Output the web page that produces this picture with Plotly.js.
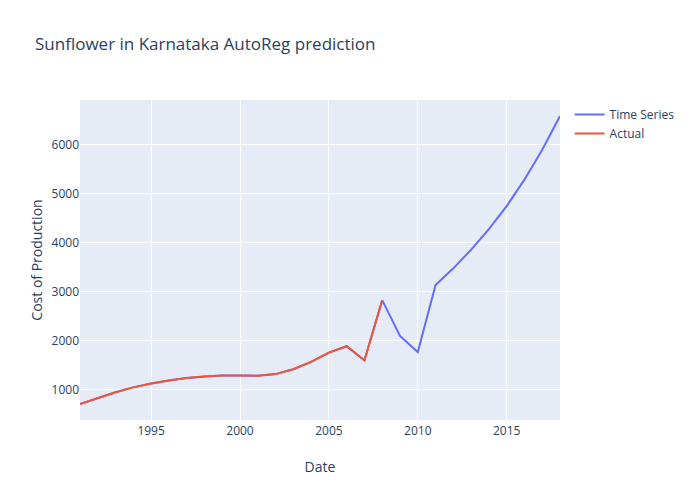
<!DOCTYPE html>
<html><head><script src="https://cdn.plot.ly/plotly-3.0.1.min.js"></script></head>
<body style="margin:0"><div id="c" style="width:700px;height:500px"></div>
<script>
const years = [1991,1992,1993,1994,1995,1996,1997,1998,1999,2000,2001,2002,2003,2004,2005,2006,2007,2008,2009,2010,2011,2012,2013,2014,2015,2016,2017,2018];
const series = [700,820,940,1040,1120,1180,1230,1260,1280,1280,1275,1310,1410,1560,1750,1880,1590,2820,2090,1760,3130,3470,3850,4270,4740,5280,5890,6580];
const actualYears = years.slice(0,18);
const actual = series.slice(0,18);
Plotly.newPlot('c',[
 {x:years,y:series,mode:'lines',name:'Time Series',line:{color:'#636efa'}},
 {x:actualYears,y:actual,mode:'lines',name:'Actual',line:{color:'#EF553B'}}
],{
 width:700,height:500,
 paper_bgcolor:'white',plot_bgcolor:'#E5ECF6',
 margin:{l:80,r:140,t:100,b:80},
 title:{text:'Sunflower in Karnataka AutoReg prediction',x:0.05,xanchor:'left',font:{size:17}},
 xaxis:{title:{text:'Date'},gridcolor:'white',range:[1991,2018],zeroline:false,linecolor:'white',ticks:''},
 yaxis:{title:{text:'Cost of Production'},gridcolor:'white',zeroline:false,ticks:''},
 font:{family:'"Open Sans", verdana, arial, sans-serif',color:'#2a3f5f',size:12}
},{displayModeBar:false});
</script></body></html>
